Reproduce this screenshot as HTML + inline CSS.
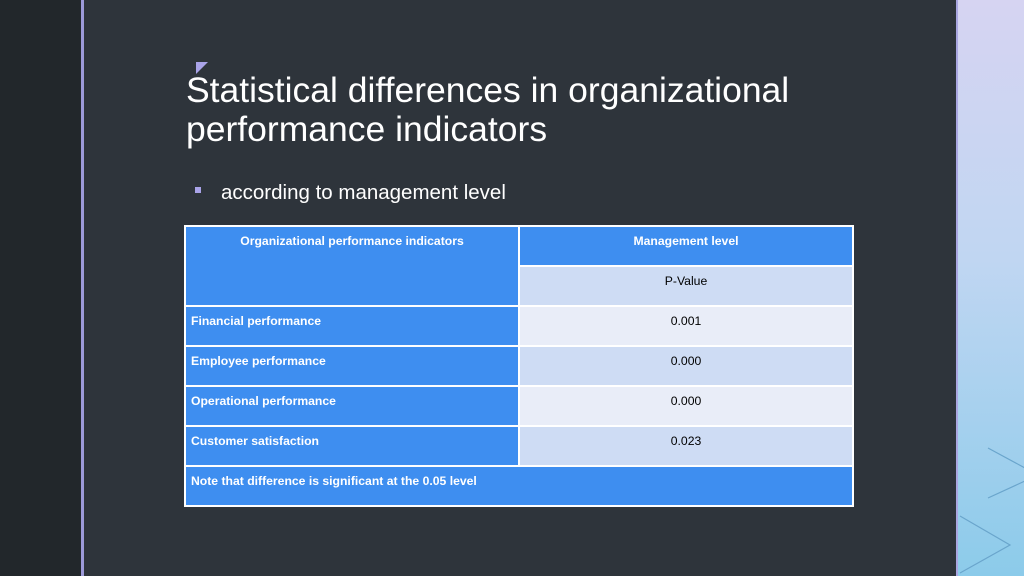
<!DOCTYPE html><html><head><style>
html,body{margin:0;width:1024px;height:576px;overflow:hidden}
body{background:#2e343b;font-family:"Liberation Sans",sans-serif;position:relative}
.l{position:absolute;left:0;top:0;width:81px;height:576px;background:#22272b}
.ln{position:absolute;left:81px;top:0;width:3px;height:576px;background:#9d9ad9}
.r{position:absolute;left:956px;top:0;width:68px;height:576px;background:linear-gradient(#d6d4f2,#c0d6f2 45%,#8ccbea);border-left:2px solid #a9a6e0}
.t{position:absolute;left:186px;top:71px;color:#fff;font-size:35.5px;line-height:39px}
.tri{position:absolute;left:196px;top:62px;width:0;height:0;border-top:12px solid #a9a3e8;border-right:12px solid transparent}
.b{position:absolute;left:195px;top:187px;width:6px;height:6px;background:#a9a3e8}
.s{position:absolute;left:221px;top:181px;color:#fff;font-size:20.5px}
table{position:absolute;left:184px;top:225px;border-collapse:collapse;width:670px;font-size:12.2px}
td{border:2px solid #fff;padding:7px 5px 0;vertical-align:top;height:34px;box-sizing:border-box}
tr{height:40px}
.h{background:#3e8ef0;color:#fff;font-weight:bold}
.a{background:#e9edf8;color:#000;text-align:center}
.c{background:#cedcf4;color:#000;text-align:center}
</style></head><body>
<div class="l"></div><div class="ln"></div>
<div class="r"><svg width="68" height="576"><g fill="none" stroke="#6aa5cc" stroke-width="1.2"><polyline points="30,448 80,475 30,498"/><polyline points="2,516 52,545 2,573"/></g></svg></div>
<div class="tri"></div>
<div class="t">Statistical differences in organizational<br>performance indicators</div>
<div class="b"></div><div class="s">according to management level</div>
<table>
<tr><td class="h" rowspan="2" style="text-align:center;width:334px">Organizational performance indicators</td><td class="h" style="text-align:center">Management level</td></tr>
<tr><td class="c">P-Value</td></tr>
<tr><td class="h">Financial performance</td><td class="a">0.001</td></tr>
<tr><td class="h">Employee performance</td><td class="c">0.000</td></tr>
<tr><td class="h">Operational performance</td><td class="a">0.000</td></tr>
<tr><td class="h">Customer satisfaction</td><td class="c">0.023</td></tr>
<tr><td class="h" colspan="2">Note that difference is significant at the 0.05 level</td></tr>
</table>
</body></html>
